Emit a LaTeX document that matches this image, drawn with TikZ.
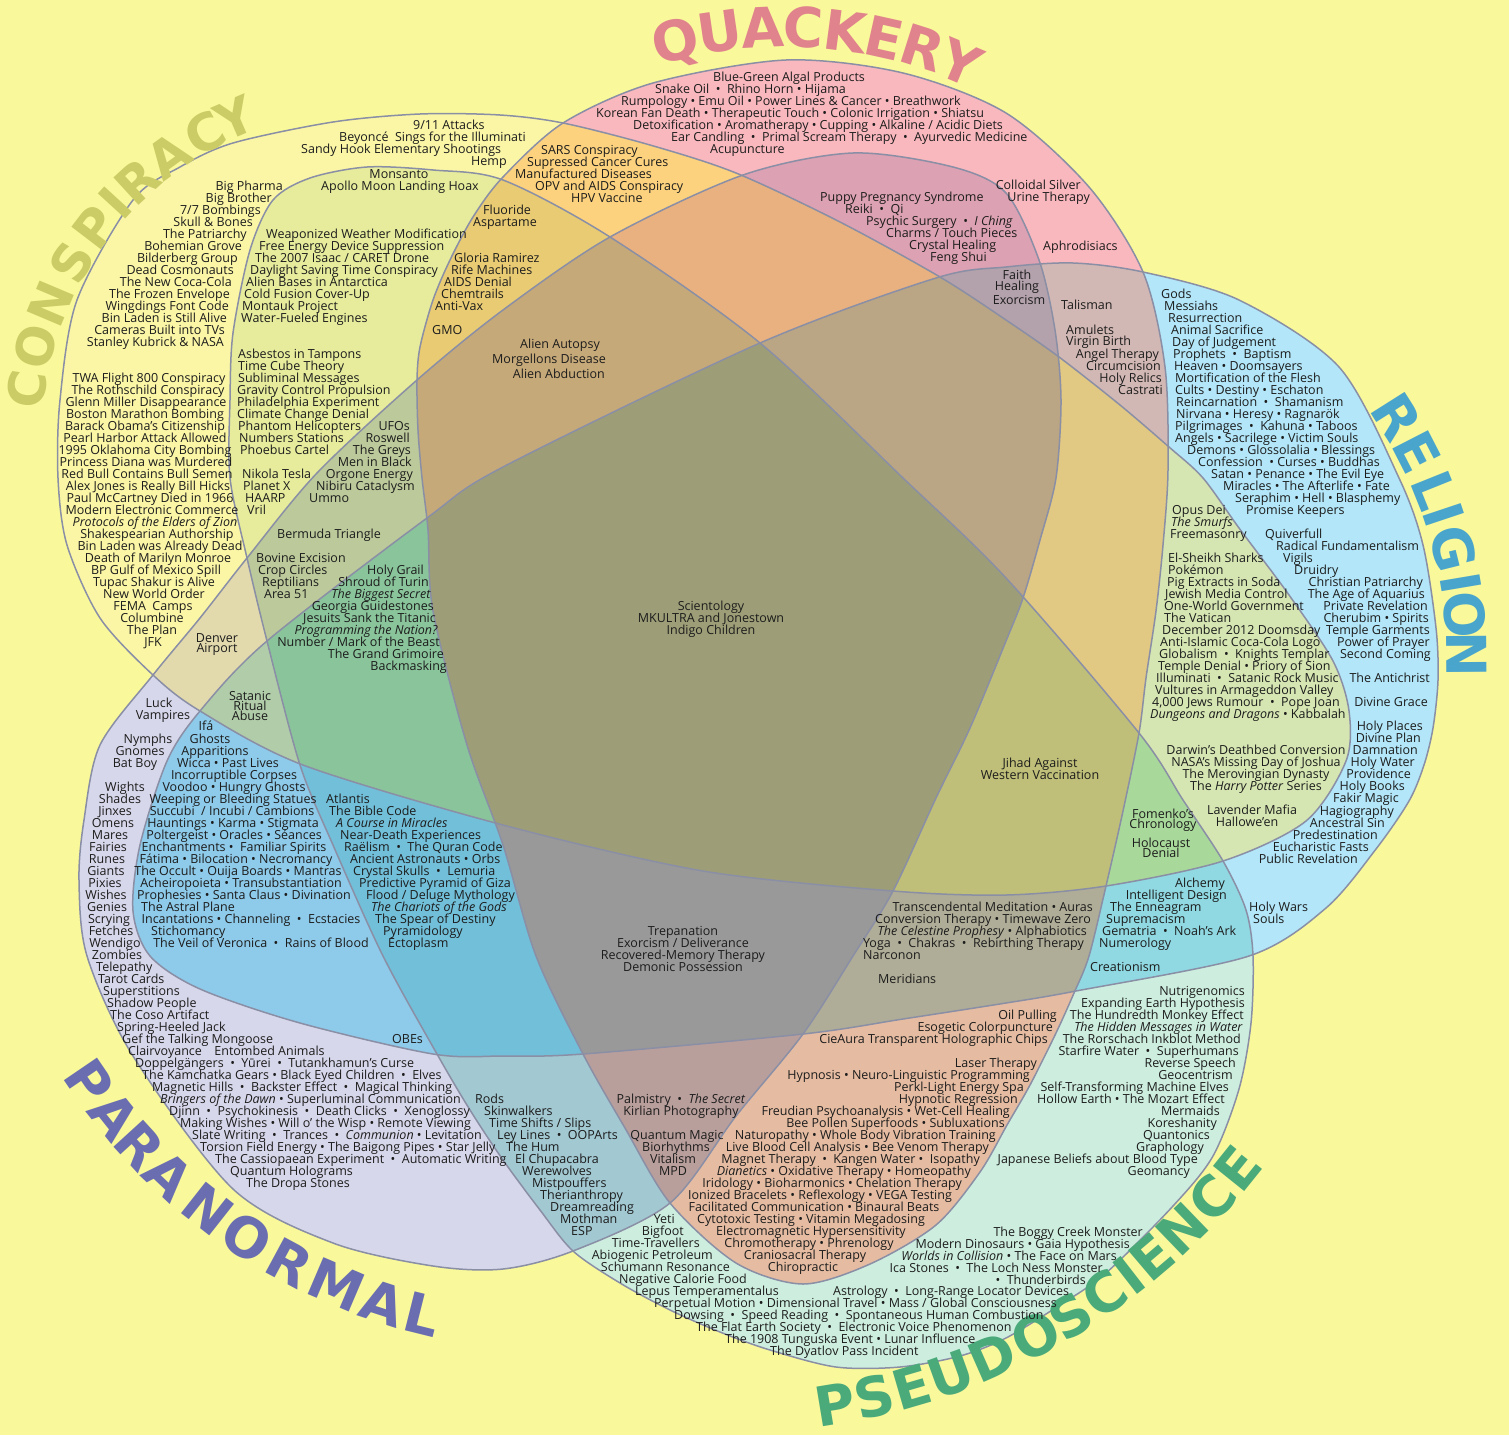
\documentclass[tikz,border=0pt]{standalone}
\usepackage{fontspec}
\setmainfont{Open Sans}
\newfontfamily\bigfont{DejaVu Sans}
\definecolor{bg}{HTML}{F9F99B}
\definecolor{ink}{HTML}{1C1C1C}
\definecolor{edge}{HTML}{8A8FA6}
\definecolor{cC}{HTML}{FBF6A6}
\definecolor{cQ}{HTML}{F9B8BE}
\definecolor{cR}{HTML}{B2E6F8}
\definecolor{cP}{HTML}{D7D7EB}
\definecolor{cS}{HTML}{CDEEDF}
\definecolor{cCQ}{HTML}{FCD27E}
\definecolor{cCR}{HTML}{D5E6B2}
\definecolor{cCP}{HTML}{E2DAAD}
\definecolor{cCS}{HTML}{E6EC9C}
\definecolor{cQR}{HTML}{D2B8B4}
\definecolor{cQP}{HTML}{DCA1B2}
\definecolor{cQS}{HTML}{E5BCA2}
\definecolor{cRP}{HTML}{8ECAE9}
\definecolor{cRS}{HTML}{90D9E2}
\definecolor{cPS}{HTML}{A2C8D1}
\definecolor{cCQR}{HTML}{E1C883}
\definecolor{cCQP}{HTML}{E9B17F}
\definecolor{cCQS}{HTML}{E8CB73}
\definecolor{cCRP}{HTML}{B1CCA9}
\definecolor{cCRS}{HTML}{A9D99A}
\definecolor{cCPS}{HTML}{BCC99A}
\definecolor{cQRP}{HTML}{B3A1AB}
\definecolor{cQRS}{HTML}{AFAD97}
\definecolor{cQPS}{HTML}{B99F9C}
\definecolor{cRPS}{HTML}{72BFD9}
\definecolor{cCQRP}{HTML}{BAA584}
\definecolor{cCQRS}{HTML}{BFBF79}
\definecolor{cCQPS}{HTML}{C6A979}
\definecolor{cCRPS}{HTML}{8AC49B}
\definecolor{cQRPS}{HTML}{999999}
\definecolor{cALL}{HTML}{9D9E77}
\definecolor{lconsp}{HTML}{CCCC66}
\definecolor{lquack}{HTML}{E0838C}
\definecolor{lrelig}{HTML}{4AA5CC}
\definecolor{lpara}{HTML}{6A6DB0}
\definecolor{lpseudo}{HTML}{4BAA7A}
\def\pC{plot[smooth cycle] coordinates {(58,478) (60,400) (77,300) (133,200) (180,167) (233,143) (333,122) (420,114) (500,115) (563,123) (650,145) (736,173) (840,222) (940,277) (1006,320) (1059,357) (1120,405) (1169,447) (1203,478) (1239,528) (1289,595) (1333,661) (1349,711) (1346,761) (1306,821) (1223,861) (1106,886) (1006,895) (893,891) (703,871) (503,825) (303,765) (200,711) (153,675) (100,618) (67,545)}}
\def\pQ{plot[smooth cycle] coordinates {(786,60) (903,73) (1006,113) (1089,187) (1143,272) (1165,367) (1168,470) (1163,545) (1156,611) (1146,678) (1139,733) (1123,811) (1106,886) (1089,956) (1074,993) (1056,1033) (1030,1085) (1007,1125) (980,1172) (936,1225) (870,1264) (803,1284) (736,1263) (670,1203) (625,1128) (583,1054) (536,956) (503,845) (467,745) (433,611) (428,530) (422,478) (418,430) (417,380) (420,347) (433,300) (450,260) (473,217) (503,177) (563,123) (653,83)}}
\def\pR{plot[smooth cycle] coordinates {(1073,263) (1143,272) (1239,300) (1339,367) (1399,478) (1423,545) (1436,628) (1438,680) (1433,728) (1424,765) (1409,801) (1376,849) (1326,908) (1249,956) (1076,991) (1006,1003) (903,1019) (803,1034) (583,1054) (503,1056) (433,1054) (300,1023) (200,989) (150,956) (133,911) (140,845) (167,761) (200,711) (267,641) (427,518) (503,467) (760,343) (936,278) (1006,267)}}
\def\pP{plot[smooth cycle] coordinates {(853,153) (953,167) (1006,193) (1039,260) (1055,330) (1061,400) (1056,478) (1040,540) (1023,598) (1006,641) (970,728) (936,798) (893,891) (853,956) (803,1034) (736,1116) (670,1203) (573,1251) (503,1269) (433,1266) (333,1243) (233,1189) (133,1056) (87,956) (79,880) (84,820) (100,745) (153,675) (200,618) (247,558) (317,473) (417,380) (503,310) (610,237) (743,175)}}
\def\pS{plot[smooth cycle] coordinates {(367,167) (433,170) (503,180) (610,237) (760,343) (903,478) (1006,578) (1139,733) (1183,800) (1223,861) (1246,910) (1253,956) (1251,1023) (1239,1089) (1213,1156) (1173,1206) (1106,1273) (1060,1305) (1006,1338) (960,1356) (900,1367) (836,1367) (770,1350) (720,1332) (670,1310) (620,1283) (573,1251) (540,1210) (503,1160) (470,1110) (437,1054) (383,956) (333,845) (300,765) (267,641) (247,558) (230,478) (230,400) (233,333) (250,250) (273,200) (310,178)}}
\newcount\tc
\newcommand\TW[3]{\global\advance\tc by 1\relax\node[txt,anchor=mid west,name=t\the\tc] at (#1,#2) {#3};}
\newcommand\TE[3]{\global\advance\tc by 1\relax\node[txt,anchor=mid east,name=t\the\tc] at (#1,#2) {#3};}
\newcommand\TC[3]{\global\advance\tc by 1\relax\node[txt,anchor=mid,name=t\the\tc] at (#1,#2) {#3};}
\begin{document}
\begin{tikzpicture}[x=1pt,y=-1pt,
  txt/.style={inner sep=0pt,font=\fontsize{12.5}{12}\selectfont,text=ink,text height=7.5pt,text depth=2pt},
  bigl/.style={inner sep=0pt,font=\bigfont\bfseries\fontsize{55}{55}\selectfont,text height=40pt,text depth=0pt,anchor=center},
  bigc/.style={inner sep=0pt,font=\bigfont\bfseries\fontsize{51}{51}\selectfont,text height=37pt,text depth=0pt,anchor=center},
  outl/.style={draw=edge,line width=1.5pt,line join=round}]
\useasboundingbox (0,0) rectangle (1509,1435);
\fill[bg] (0,0) rectangle (1509,1435);
% single sets
\fill[cC] \pC; \fill[cQ] \pQ; \fill[cR] \pR; \fill[cP] \pP; \fill[cS] \pS;
% pairs
\begin{scope}\clip \pC; \fill[cCQ] \pQ; \end{scope}
\begin{scope}\clip \pC; \fill[cCR] \pR; \end{scope}
\begin{scope}\clip \pC; \fill[cCP] \pP; \end{scope}
\begin{scope}\clip \pC; \fill[cCS] \pS; \end{scope}
\begin{scope}\clip \pQ; \fill[cQR] \pR; \end{scope}
\begin{scope}\clip \pQ; \fill[cQP] \pP; \end{scope}
\begin{scope}\clip \pQ; \fill[cQS] \pS; \end{scope}
\begin{scope}\clip \pR; \fill[cRP] \pP; \end{scope}
\begin{scope}\clip \pR; \fill[cRS] \pS; \end{scope}
\begin{scope}\clip \pP; \fill[cPS] \pS; \end{scope}
% triples
\begin{scope}\clip \pC; \clip \pQ; \fill[cCQR] \pR; \end{scope}
\begin{scope}\clip \pC; \clip \pQ; \fill[cCQP] \pP; \end{scope}
\begin{scope}\clip \pC; \clip \pQ; \fill[cCQS] \pS; \end{scope}
\begin{scope}\clip \pC; \clip \pR; \fill[cCRP] \pP; \end{scope}
\begin{scope}\clip \pC; \clip \pR; \fill[cCRS] \pS; \end{scope}
\begin{scope}\clip \pC; \clip \pP; \fill[cCPS] \pS; \end{scope}
\begin{scope}\clip \pQ; \clip \pR; \fill[cQRP] \pP; \end{scope}
\begin{scope}\clip \pQ; \clip \pR; \fill[cQRS] \pS; \end{scope}
\begin{scope}\clip \pQ; \clip \pP; \fill[cQPS] \pS; \end{scope}
\begin{scope}\clip \pR; \clip \pP; \fill[cRPS] \pS; \end{scope}
% quadruples
\begin{scope}\clip \pC; \clip \pQ; \clip \pR; \fill[cCQRP] \pP; \end{scope}
\begin{scope}\clip \pC; \clip \pQ; \clip \pR; \fill[cCQRS] \pS; \end{scope}
\begin{scope}\clip \pC; \clip \pQ; \clip \pP; \fill[cCQPS] \pS; \end{scope}
\begin{scope}\clip \pC; \clip \pR; \clip \pP; \fill[cCRPS] \pS; \end{scope}
\begin{scope}\clip \pQ; \clip \pR; \clip \pP; \fill[cQRPS] \pS; \end{scope}
% all five
\begin{scope}\clip \pC; \clip \pQ; \clip \pR; \clip \pP; \fill[cALL] \pS; \end{scope}
% outlines
\draw[outl] \pC; \draw[outl] \pQ; \draw[outl] \pR; \draw[outl] \pP; \draw[outl] \pS;
% big curved titles
\begin{scope}[shift={(785,482)}]
\foreach \a/\r/\l [count=\i] in {-103.97/13.97/Q,-98.26/8.26/U,-92.81/2.81/A,-87.63/-2.37/C,-82.44/-7.56/K,-77.43/-12.57/E,-72.44/-17.56/R,-67.30/-22.70/Y}
  \node[bigl,text=lquack,rotate=\r,name=q\i] at (\a:455) {\l};
\end{scope}
\begin{scope}[shift={(375,441)}]
\foreach \a/\r/\l [count=\i] in {-171.5/81.5/C,-164.4/74.4/O,-157.1/67.1/N,-149.5/59.5/S,-142.6/52.6/P,-137.5/47.5/I,-132.5/42.5/R,-125.8/35.8/A,-118.9/28.9/C,-113.4/23.4/Y}
  \node[bigc,text=lconsp,rotate=\r,name=c\i] at (\a:352) {\l};
\end{scope}
\begin{scope}[shift={(1016,658)}]
\foreach \a/\r/\l [count=\i] in {-32.3/-57.7/R,-27.2/-62.8/E,-21.9/-68.1/L,-18.5/-71.5/I,-14.0/-76.0/G,-9.6/-80.4/I,-5.5/-84.5/O,-0.4/-89.6/N}
  \node[bigl,text=lrelig,rotate=\r,name=r\i] at (\a:451) {\l};
\end{scope}
\begin{scope}[shift={(560,761)}]
\foreach \a/\r/\l [count=\i] in {145.7/-55.7/P,141.5/-51.5/A,137.6/-47.6/R,133.4/-43.4/A,128.2/-38.2/N,123.3/-33.3/O,118.3/-28.3/R,113.1/-23.1/M,108.1/-18.1/A,104.0/-14.0/L}
  \node[bigl,text=lpara,rotate=\r,name=p\i] at (\a:570) {\l};
\end{scope}
\begin{scope}[shift={(728,759)}]
\foreach \a/\r/\l [count=\i] in {80.6/9.4/P,77.1/12.9/S,73.7/16.3/E,70.1/19.9/U,66.2/23.8/D,61.9/28.1/O,58.35/31.65/S,54.85/35.15/C,52.2/37.8/I,49.65/40.35/E,46.0/44.0/N,42.2/47.8/C,38.8/51.2/E}
  \node[bigl,text=lpseudo,rotate=\r,name=s\i] at (\a:654) {\l};
\end{scope}
% ---------- QUACKERY ----------
\TW{713}{79}{Blue-Green Algal Products}
\TW{655}{91}{Snake Oil \ • \ Rhino Horn • Hijama}
\TW{621}{103}{Rumpology • Emu Oil • Power Lines \& Cancer • Breathwork}
\TW{596}{115}{Korean Fan Death • Therapeutic Touch • Colonic Irrigation • Shiatsu}
\TW{633}{127}{Detoxification • Aromatherapy • Cupping • Alkaline / Acidic Diets}
\TW{671}{139}{Ear Candling \ • \ Primal Scream Therapy \ • \ Ayurvedic Medicine}
\TW{710}{151}{Acupuncture}
\TE{1081}{187}{Colloidal Silver}
\TE{1090}{199}{Urine Therapy}
\TW{1043}{248}{Aphrodisiacs}
\TW{820}{199}{Puppy Pregnancy Syndrome}
\TW{845}{211}{Reiki \ • \ Qi}
\TW{866}{223}{Psychic Surgery \ • \ \textit{I Ching}}
\TW{886}{235}{Charms / Touch Pieces}
\TW{909}{247}{Crystal Healing}
\TW{930}{259}{Feng Shui}
\TC{1017}{277}{Faith}
\TC{1017}{288}{Healing}
\TC{1019}{302}{Exorcism}
\TW{1061}{307}{Talisman}
\TW{1066}{332}{Amulets}
\TW{1066}{343}{Virgin Birth}
\TE{1159}{356}{Angel Therapy}
\TE{1161}{368}{Circumcision}
\TE{1162}{380}{Holy Relics}
\TE{1163}{392}{Castrati}
% ---------- RELIGION ----------
\TW{1161}{296}{Gods}
\TW{1164}{308}{Messiahs}
\TW{1168}{320}{Resurrection}
\TW{1171}{332}{Animal Sacrifice}
\TW{1172}{344}{Day of Judgement}
\TW{1173}{356}{Prophets \ • \ Baptism}
\TW{1174}{368}{Heaven • Doomsayers}
\TW{1175}{380}{Mortification of the Flesh}
\TW{1175}{392}{Cults • Destiny • Eschaton}
\TW{1176}{404}{Reincarnation \ • \ Shamanism}
\TW{1176}{416}{Nirvana • Heresy • Ragnarök}
\TW{1175}{428}{Pilgrimages \ • \ Kahuna • Taboos}
\TW{1175}{440}{Angels • Sacrilege • Victim Souls}
\TW{1187}{452}{Demons • Glossolalia • Blessings}
\TW{1198}{464}{Confession \ • Curses • Buddhas}
\TW{1211}{476}{Satan • Penance • The Evil Eye}
\TW{1223}{488}{Miracles • The Afterlife • Fate}
\TW{1235}{500}{Seraphim • Hell • Blasphemy}
\TW{1246}{512}{Promise Keepers}
\TW{1265}{536}{Quiverfull}
\TW{1276}{548}{Radical Fundamentalism}
\TW{1283}{560}{Vigils}
\TW{1294}{572}{Druidry}
\TE{1423}{584}{Christian Patriarchy}
\TE{1425}{596}{The Age of Aquarius}
\TE{1428}{608}{Private Revelation}
\TE{1429}{620}{Cherubim • Spirits}
\TE{1430}{632}{Temple Garments}
\TE{1430}{644}{Power of Prayer}
\TE{1431}{656}{Second Coming}
\TE{1430}{680}{The Antichrist}
\TE{1428}{704}{Divine Grace}
\TE{1423}{728}{Holy Places}
\TE{1421}{740}{Divine Plan}
\TE{1418}{752}{Damnation}
\TE{1415}{764}{Holy Water}
\TE{1411}{776}{Providence}
\TE{1405}{788}{Holy Books}
\TE{1399}{800}{Fakir Magic}
\TE{1394}{813}{Hagiography}
\TE{1385}{825}{Ancestral Sin}
\TE{1378}{837}{Predestination}
\TE{1369}{849}{Eucharistic Fasts}
\TE{1358}{861}{Public Revelation}
\TW{1249}{909}{Holy Wars}
\TW{1253}{921}{Souls}
% ---------- CONSPIRACY + RELIGION ----------
\TW{1172}{512}{Opus Dei}
\TW{1171}{524}{\textit{The Smurfs}}
\TW{1170}{536}{Freemasonry}
\TW{1168}{560}{El-Sheikh Sharks}
\TW{1168}{572}{Pokémon}
\TW{1167}{584}{Pig Extracts in Soda}
\TW{1165}{596}{Jewish Media Control}
\TW{1164}{608}{One-World Government}
\TW{1164}{620}{The Vatican}
\TW{1162}{632}{December 2012 Doomsday}
\TW{1160}{644}{Anti-Islamic Coca-Cola Logo}
\TW{1159}{656}{Globalism \ • \ Knights Templar}
\TW{1158}{668}{Temple Denial • Priory of Sion}
\TW{1156}{680}{Illuminati \ • \ Satanic Rock Music}
\TW{1155}{692}{Vultures in Armageddon Valley}
\TW{1152}{704}{4,000 Jews Rumour \ • \ Pope Joan}
\TW{1150}{716}{\textit{Dungeons and Dragons} • Kabbalah}
\TC{1256}{752}{Darwin's Deathbed Conversion}
\TC{1256}{764}{NASA's Missing Day of Joshua}
\TC{1256}{776}{The Merovingian Dynasty}
\TC{1256}{788}{The \textit{Harry Potter} Series}
\TC{1252}{812}{Lavender Mafia}
\TC{1247}{824}{Hallowe'en}
\TC{1163}{816}{Fomenko's}
\TC{1163}{826}{Chronology}
\TC{1161}{845}{Holocaust}
\TC{1161}{855}{Denial}
\TE{1225}{885}{Alchemy}
\TE{1227}{897}{Intelligent Design}
\TW{1110}{909}{The Enneagram}
\TW{1106}{921}{Supremacism}
\TW{1102}{933}{Gematria \ • \ Noah's Ark}
\TW{1099}{945}{Numerology}
\TW{1090}{969}{Creationism}
\TC{1040}{765}{Jihad Against}
\TC{1040}{777}{Western Vaccination}
\TE{1093}{909}{Transcendental Meditation • Auras}
\TE{1091}{921}{Conversion Therapy • Timewave Zero}
\TE{1087}{933}{\textit{The Celestine Prophesy} • Alphabiotics}
\TE{1084}{945}{Yoga \ • \ Chakras \ • \ Rebirthing Therapy}
\TW{863}{957}{Narconon}
\TW{878}{981}{Meridians}
\TC{683}{933}{Trepanation}
\TC{683}{945}{Exorcism / Deliverance}
\TC{683}{957}{Recovered-Memory Therapy}
\TC{683}{969}{Demonic Possession}
\TC{711}{608}{Scientology}
\TC{711}{620}{MKULTRA and Jonestown}
\TC{711}{632}{Indigo Children}
\TE{600}{346}{Alien Autopsy}
\TE{606}{361}{Morgellons Disease}
\TE{605}{376}{Alien Abduction}
% ---------- CONSPIRACY + QUACKERY ----------
\TW{541}{152}{SARS Conspiracy}
\TW{527}{164}{Supressed Cancer Cures}
\TW{515}{176}{Manufactured Diseases}
\TW{535}{188}{OPV and AIDS Conspiracy}
\TW{571}{200}{HPV Vaccine}
\TW{483}{212}{Fluoride}
\TW{473}{224}{Aspartame}
\TW{454}{260}{Gloria Ramirez}
\TW{451}{272}{Rife Machines}
\TW{444}{284}{AIDS Denial}
\TW{441}{296}{Chemtrails}
\TW{435}{308}{Anti-Vax}
\TW{432}{332}{GMO}
% ---------- CONSPIRACY ----------
\TW{413}{127}{9/11 Attacks}
\TW{339}{139}{Beyoncé \ Sings for the Illuminati}
\TW{301}{151}{Sandy Hook Elementary Shootings}
\TW{471}{163}{Hemp}
\TE{283}{188}{Big Pharma}
\TE{272}{200}{Big Brother}
\TE{261}{212}{7/7 Bombings}
\TE{253}{224}{Skull \& Bones}
\TE{247}{236}{The Patriarchy}
\TE{242}{248}{Bohemian Grove}
\TE{238}{260}{Bilderberg Group}
\TE{234}{272}{Dead Cosmonauts}
\TE{232}{284}{The New Coca-Cola}
\TE{230}{296}{The Frozen Envelope}
\TE{229}{308}{Wingdings Font Code}
\TE{227}{320}{Bin Laden is Still Alive}
\TE{225}{332}{Cameras Built into TVs}
\TE{224}{344}{Stanley Kubrick \& NASA}
\TC{149}{380}{TWA Flight 800 Conspiracy}
\TC{148}{392}{The Rothschild Conspiracy}
\TC{146}{404}{Glenn Miller Disappearance}
\TC{145}{416}{Boston Marathon Bombing}
\TC{145}{428}{Barack Obama's Citizenship}
\TC{145}{440}{Pearl Harbor Attack Allowed}
\TC{145}{452}{1995 Oklahoma City Bombing}
\TC{146}{464}{Princess Diana was Murdered}
\TC{147}{476}{Red Bull Contains Bull Semen}
\TC{148}{488}{Alex Jones is Really Bill Hicks}
\TC{150}{500}{Paul McCartney Died in 1966}
\TC{152}{512}{Modern Electronic Commerce}
\TC{155}{524}{\textit{Protocols of the Elders of Zion}}
\TC{157}{536}{Shakespearian Authorship}
\TC{160}{548}{Bin Laden was Already Dead}
\TC{158}{560}{Death of Marilyn Monroe}
\TC{156}{572}{BP Gulf of Mexico Spill}
\TC{154}{584}{Tupac Shakur is Alive}
\TC{154}{596}{New World Order}
\TC{153}{608}{FEMA \ Camps}
\TC{152}{620}{Columbine}
\TC{152}{632}{The Plan}
\TC{153}{644}{JFK}
% ---------- CONSPIRACY + PSEUDOSCIENCE ----------
\TC{399}{176}{Monsanto}
\TC{400}{188}{Apollo Moon Landing Hoax}
\TW{266}{236}{Weaponized Weather Modification}
\TW{259}{248}{Free Energy Device Suppression}
\TW{255}{260}{The 2007 Isaac / CARET Drone}
\TW{250}{272}{Daylight Saving Time Conspiracy}
\TW{246}{284}{Alien Bases in Antarctica}
\TW{244}{296}{Cold Fusion Cover-Up}
\TW{242}{308}{Montauk Project}
\TW{241}{320}{Water-Fueled Engines}
\TW{238}{356}{Asbestos in Tampons}
\TW{238}{368}{Time Cube Theory}
\TW{238}{380}{Subliminal Messages}
\TW{237}{392}{Gravity Control Propulsion}
\TW{237}{404}{Philadelphia Experiment}
\TW{237}{416}{Climate Change Denial}
\TW{238}{428}{Phantom Helicopters}
\TW{239}{440}{Numbers Stations}
\TW{240}{452}{Phoebus Cartel}
\TW{242}{476}{Nikola Tesla}
\TW{243}{488}{Planet X}
\TW{245}{500}{HAARP}
\TW{247}{512}{Vril}
\TE{410}{428}{UFOs}
\TE{410}{440}{Roswell}
\TE{411}{452}{The Greys}
\TE{412}{464}{Men in Black}
\TE{413}{476}{Orgone Energy}
\TE{415}{488}{Nibiru Cataclysm}
\TW{309}{500}{Ummo}
\TC{329}{536}{Bermuda Triangle}
\TW{256}{560}{Bovine Excision}
\TW{258}{572}{Crop Circles}
\TW{262}{584}{Reptilians}
\TW{264}{596}{Area 51}
\TC{217}{640}{Denver}
\TC{217}{650}{Airport}
\TC{250}{698}{Satanic}
\TC{250}{708}{Ritual}
\TC{250}{718}{Abuse}
\TE{424}{572}{Holy Grail}
\TE{429}{584}{Shroud of Turin}
\TE{431}{596}{\textit{The Biggest Secret}}
\TE{434}{608}{Georgia Guidestones}
\TE{436}{620}{Jesuits Sank the Titanic}
\TE{438}{632}{\textit{Programming the Nation?}}
\TE{440}{644}{Number / Mark of the Beast}
\TE{444}{656}{The Grand Grimoire}
\TE{447}{668}{Backmasking}
% ---------- PARANORMAL ----------
\TC{159}{705}{Luck}
\TC{163}{717}{Vampires}
\TC{148}{741}{Nymphs}
\TC{140}{753}{Gnomes}
\TC{135}{765}{Bat Boy}
\TC{125}{789}{Wights}
\TC{120}{801}{Shades}
\TC{115}{813}{Jinxes}
\TC{113}{825}{Omens}
\TC{110}{837}{Mares}
\TC{108}{849}{Fairies}
\TC{107}{861}{Runes}
\TC{106}{873}{Giants}
\TC{105}{885}{Pixies}
\TC{106}{897}{Wishes}
\TC{107}{909}{Genies}
\TC{109}{921}{Scrying}
\TC{111}{933}{Fetches}
\TC{115}{945}{Wendigo}
\TC{117}{957}{Zombies}
\TW{96}{969}{Telepathy}
\TW{98}{981}{Tarot Cards}
\TW{103}{993}{Superstitions}
\TW{107}{1005}{Shadow People}
\TW{110}{1017}{The Coso Artifact}
\TW{117}{1029}{Spring-Heeled Jack}
\TW{122}{1041}{Gef the Talking Mongoose}
\TW{128}{1053}{Clairvoyance\quad Entombed Animals}
\TW{135}{1065}{Doppelgängers \ • \ Yūrei \ • \ Tutankhamun's Curse}
\TW{142}{1077}{The Kamchatka Gears • Black Eyed Children \ • \ Elves}
\TW{152}{1089}{Magnetic Hills \ • \ Backster Effect \ • \ Magical Thinking}
\TW{160}{1101}{\textit{Bringers of the Dawn} • Superluminal Communication}
\TW{169}{1113}{Djinn \ • \ Psychokinesis \ • \ Death Clicks \ • \ Xenoglossy}
\TW{180}{1125}{Making Wishes • Will o' the Wisp • Remote Viewing}
\TW{192}{1137}{Slate Writing \ • \ Trances \ • \ \textit{Communion} • Levitation}
\TW{200}{1149}{Torsion Field Energy • The Baigong Pipes • Star Jelly}
\TW{215}{1161}{The Cassiopaean Experiment \ • \ Automatic Writing}
\TW{230}{1173}{Quantum Holograms}
\TW{246}{1185}{The Dropa Stones}
\TC{206}{728}{Ifá}
\TC{210}{741}{Ghosts}
\TC{215}{753}{Apparitions}
\TC{228}{765}{Wicca • Past Lives}
\TC{234}{777}{Incorruptible Corpses}
\TC{234}{789}{Voodoo • Hungry Ghosts}
\TC{233}{801}{Weeping or Bleeding Statues}
\TC{232}{813}{Succubi \ / Incubi / Cambions}
\TC{233}{825}{Hauntings • Karma • Stigmata}
\TC{234}{837}{Poltergeist • Oracles • Séances}
\TC{234}{849}{Enchantments • \ Familiar Spirits}
\TC{236}{861}{Fátima • Bilocation • Necromancy}
\TC{238}{873}{The Occult • Ouija Boards • Mantras}
\TC{241}{885}{Acheiropoieta • Transubstantiation}
\TC{244}{897}{Prophesies • Santa Claus • Divination}
\TW{141}{909}{The Astral Plane}
\TC{251}{921}{Incantations • Channeling \ • \ Ecstacies}
\TW{151}{933}{Stichomancy}
\TC{261}{945}{The Veil of Veronica \ • \ Rains of Blood}
\TW{392}{1041}{OBEs}
\TW{326}{801}{Atlantis}
\TW{329}{813}{The Bible Code}
\TW{336}{825}{\textit{A Course in Miracles}}
\TW{340}{837}{Near-Death Experiences}
\TW{344}{849}{Raëlism \ • \ The Quran Code}
\TW{350}{861}{Ancient Astronauts • Orbs}
\TW{353}{873}{Crystal Skulls \ • \ Lemuria}
\TW{359}{885}{Predictive Pyramid of Giza}
\TW{366}{897}{Flood / Deluge Mythology}
\TW{371}{909}{\textit{The Chariots of the Gods}}
\TW{375}{921}{The Spear of Destiny}
\TW{383}{933}{Pyramidology}
\TW{388}{945}{Ectoplasm}
\TW{475}{1101}{Rods}
\TW{484}{1113}{Skinwalkers}
\TW{489}{1125}{Time Shifts / Slips}
\TW{497}{1137}{Ley Lines \ • \ OOPArts}
\TW{506}{1149}{The Hum}
\TW{515}{1161}{El Chupacabra}
\TW{522}{1173}{Werewolves}
\TW{532}{1185}{Mistpouffers}
\TW{540}{1197}{Therianthropy}
\TW{550}{1209}{Dreamreading}
\TW{560}{1221}{Mothman}
\TW{571}{1233}{ESP}
\TC{681}{1101}{Palmistry \ • \ \textit{The Secret}}
\TC{681}{1113}{Kirlian Photography}
\TC{677}{1137}{Quantum Magic}
\TC{676}{1149}{Biorhythms}
\TC{673}{1161}{Vitalism}
\TC{673}{1173}{MPD}
% ---------- PSEUDOSCIENCE ----------
\TE{675}{1221}{Yeti}
\TE{684}{1233}{Bigfoot}
\TE{700}{1245}{Time-Travellers}
\TE{713}{1257}{Abiogenic Petroleum}
\TE{730}{1269}{Schumann Resonance}
\TE{747}{1281}{Negative Calorie Food}
\TW{635}{1293}{Lepus Temperamentalus}
\TW{654}{1305}{Perpetual Motion • Dimensional Travel • Mass / Global Consciousness}
\TW{674}{1317}{Dowsing \ • \ Speed Reading \ • \ Spontaneous Human Combustion}
\TW{696}{1329}{The Flat Earth Society \ • \ Electronic Voice Phenomenon}
\TW{725}{1341}{The 1908 Tunguska Event • Lunar Influence}
\TW{770}{1353}{The Dyatlov Pass Incident}
\TW{833}{1293}{Astrology \ • \ Long-Range Locator Devices}
\TE{1143}{1234}{The Boggy Creek Monster}
\TE{1130}{1246}{Modern Dinosaurs • Gaia Hypothesis}
\TE{1117}{1258}{\textit{Worlds in Collision} • The Face on Mars}
\TE{1103}{1270}{Ica Stones \ • \ The Loch Ness Monster}
\TE{1086}{1282}{• \ Thunderbirds}
\TE{1245}{993}{Nutrigenomics}
\TE{1245}{1005}{Expanding Earth Hypothesis}
\TE{1244}{1017}{The Hundredth Monkey Effect}
\TE{1243}{1029}{\textit{The Hidden Messages in Water}}
\TE{1241}{1041}{The Rorschach Inkblot Method}
\TE{1239}{1053}{Starfire Water \ • \ Superhumans}
\TE{1236}{1065}{Reverse Speech}
\TE{1233}{1077}{Geocentrism}
\TE{1229}{1089}{Self-Transforming Machine Elves}
\TE{1225}{1101}{Hollow Earth • The Mozart Effect}
\TE{1220}{1113}{Mermaids}
\TE{1217}{1125}{Koreshanity}
\TE{1210}{1137}{Quantonics}
\TE{1204}{1149}{Graphology}
\TE{1198}{1161}{Japanese Beliefs about Blood Type}
\TE{1190}{1173}{Geomancy}
\TE{1057}{1017}{Oil Pulling}
\TE{1053}{1029}{Esogetic Colorpuncture}
\TE{1048}{1041}{CieAura Transparent Holographic Chips}
\TE{1037}{1065}{Laser Therapy}
\TE{1030}{1077}{Hypnosis • Neuro-Linguistic Programming}
\TE{1024}{1089}{Perkl-Light Energy Spa}
\TE{1018}{1101}{Hypnotic Regression}
\TE{1010}{1113}{Freudian Psychoanalysis • Wet-Cell Healing}
\TE{1005}{1125}{Bee Pollen Superfoods • Subluxations}
\TE{996}{1137}{Naturopathy • Whole Body Vibration Training}
\TE{989}{1149}{Live Blood Cell Analysis • Bee Venom Therapy}
\TE{980}{1161}{Magnet Therapy \ • \ Kangen Water • \ Isopathy}
\TE{971}{1173}{\textit{Dianetics} • Oxidative Therapy • Homeopathy}
\TE{962}{1185}{Iridology • Bioharmonics • Chelation Therapy}
\TC{820}{1197}{Ionized Bracelets • Reflexology • VEGA Testing}
\TC{814}{1209}{Facilitated Communication • Binaural Beats}
\TC{811}{1221}{Cytotoxic Testing • Vitamin Megadosing}
\TC{811}{1233}{Electromagnetic Hypersensitivity}
\TC{809}{1245}{Chromotherapy • Phrenology}
\TC{805}{1257}{Craniosacral Therapy}
\TC{803}{1269}{Chiropractic}
\end{tikzpicture}
\end{document}
